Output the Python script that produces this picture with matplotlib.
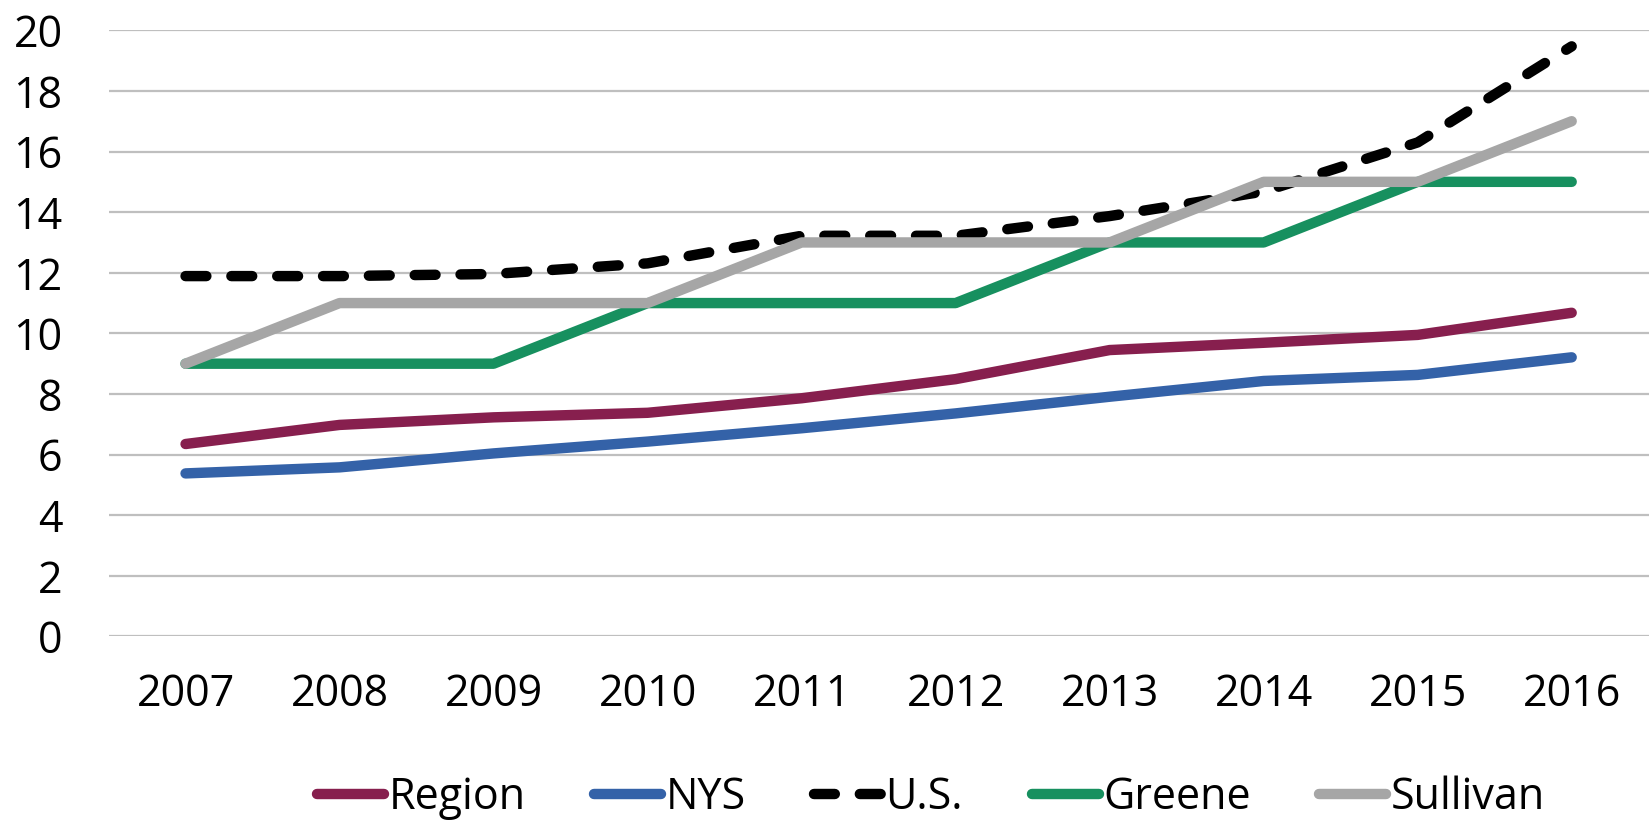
import matplotlib.pyplot as plt

# -------------------------------------------------------
# DATA
# -------------------------------------------------------
years = ["2007", "2008", "2009", "2010", "2011", "2012", "2013", "2014", "2015", "2016"]

region = [6.35, 6.98, 7.23, 7.38, 7.86, 8.49, 9.45, 9.69, 9.95, 10.68]
nys = [5.38, 5.58, 6.04, 6.43, 6.87, 7.36, 7.91, 8.43, 8.63, 9.21]
us = [11.89, 11.89, 11.96, 12.31, 13.22, 13.22, 13.87, 14.68, 16.3, 19.47]
greene = [9, 9, 9, 11, 11, 11, 13, 13, 15, 15]
sullivan = [9, 11, 11, 11, 13, 13, 13, 15, 15, 17]

yticks = [0, 2, 4, 6, 8, 10, 12, 14, 16, 18, 20]

plt.rcParams["font.family"] = ["Open Sans", "DejaVu Sans"]

fig = plt.figure(figsize=(16.52, 8.25), dpi=100)
ax = fig.add_axes([0.0657, 0.2285, 0.9323, 0.7348])

x = list(range(len(years)))
lw = 7.5

ax.plot(x, region, color="#871F4E", lw=lw, solid_capstyle="round", label="Region", zorder=3)
ax.plot(x, nys, color="#3462A8", lw=lw, solid_capstyle="round", label="NYS", zorder=3)
ax.plot(x, us, color="black", lw=lw, dashes=(2.0, 2.4), dash_capstyle="round", label="U.S.", zorder=3)
ax.plot(x, greene, color="#17905F", lw=lw, solid_capstyle="round", label="Greene", zorder=3)
ax.plot(x, sullivan, color="#A6A6A6", lw=lw, solid_capstyle="round", label="Sullivan", zorder=3)

# axes styling
ax.set_xlim(-0.5, len(years) - 0.5)
ax.set_ylim(0, 20)
ax.set_yticks(yticks)
ax.set_xticks(x)
ax.set_xticklabels(years)
for s in ax.spines.values():
    s.set_visible(False)
ax.grid(axis="y", color="#BFBFBF", lw=1.6, zorder=0)
ax.tick_params(axis="both", length=0, labelsize=31)
ax.tick_params(axis="y", pad=33)
ax.tick_params(axis="x", pad=26)

leg = fig.legend(
    loc="center", bbox_to_anchor=(0.5636, 0.033), ncol=5, frameon=False,
    fontsize=31, handlelength=1.55, handletextpad=0.1, columnspacing=1.6,
    borderaxespad=0,
)

plt.savefig("out.png", dpi=100)
